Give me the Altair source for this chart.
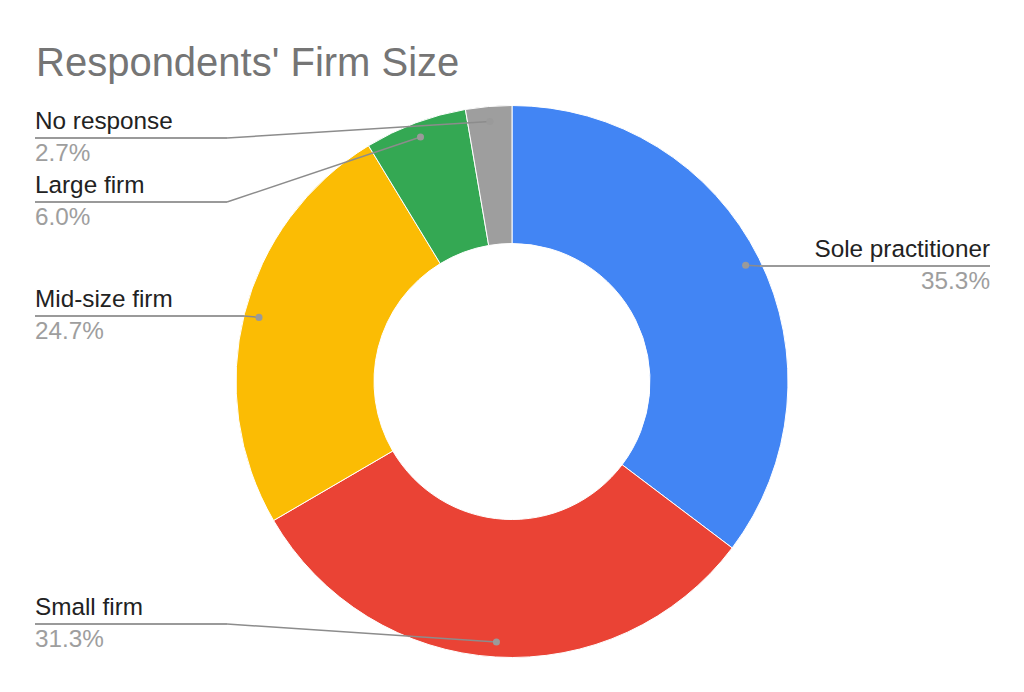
import altair as alt
import pandas as pd

# ---- data ----
categories = ["Sole practitioner", "Small firm", "Mid-size firm", "Large firm", "No response"]
shares = [35.3, 31.3, 24.7, 6.0, 2.7]
pct_labels = ["35.3%", "31.3%", "24.7%", "6.0%", "2.7%"]

# ---- styling / layout (plot-area pixels) ----
colors = ["#4285F4", "#EA4335", "#FBBC04", "#34A853", "#9E9E9E"]
label_side = ["right", "left", "left", "left", "left"]
label_line_y = [158, 516, 208, 94, 30]
label_elbow_x = [752, 219, 236, 219, 219]
label_end_x = [982, 27, 27, 27, 27]

CX, CY = 504, 273.5
R_OUT, R_IN, R_DOT = 276, 138, 261
W, H = 1008, 576
FONT = "Liberation Sans"

df = pd.DataFrame({
    "category": categories,
    "share": shares,
    "pct": pct_labels,
    "order": list(range(len(categories))),
    "side": label_side,
    "line_y": label_line_y,
    "elbow_x": label_elbow_x,
    "end_x": label_end_x,
})

base = alt.Chart(df)

color = alt.Color("category:N", scale=alt.Scale(domain=categories, range=colors), legend=None)

arcs = base.mark_arc(innerRadius=R_IN, outerRadius=R_OUT, stroke="white", strokeWidth=1).encode(
    theta=alt.Theta("share:Q", stack=True),
    order=alt.Order("order:Q"),
    color=color,
    x=alt.value(CX),
    y=alt.value(CY),
)

pos = base.transform_window(
    cum="sum(share)", sort=[alt.SortField("order")], frame=[None, 0]
).transform_joinaggregate(
    total="sum(share)"
).transform_calculate(
    ang=f"2*PI*(datum.cum - datum.share/2)/datum.total"
).transform_calculate(
    dot_x=f"{CX} + {R_DOT}*sin(datum.ang)",
    dot_y=f"{CY} - {R_DOT}*cos(datum.ang)",
)

X = lambda f: alt.X(f, type="quantitative", scale=None, axis=None)
Y = lambda f: alt.Y(f, type="quantitative", scale=None, axis=None)

diag = pos.mark_rule(color="#8c8c8c", strokeWidth=1.5).encode(
    x=X("dot_x"), y=Y("dot_y"), x2="elbow_x:Q", y2="line_y:Q"
)
horiz = pos.mark_rule(color="#9a9a9a", strokeWidth=2).encode(
    x=X("elbow_x"), x2="end_x:Q", y=Y("line_y")
)
dots = pos.mark_circle(size=50, color="#9a9a9a", opacity=1).encode(
    x=X("dot_x"), y=Y("dot_y")
)

def labels(side, align):
    b = base.transform_filter(alt.datum.side == side)
    name = b.mark_text(align=align, baseline="alphabetic", dy=-9, font=FONT,
                       fontSize=24.3, color="#222222").encode(
        x=X("end_x"), y=Y("line_y"), text="category:N")
    pct = b.mark_text(align=align, baseline="alphabetic", dy=23, font=FONT,
                      fontSize=24.3, color="#9e9e9e").encode(
        x=X("end_x"), y=Y("line_y"), text="pct:N")
    return name + pct

chart = alt.layer(
    arcs, diag, horiz, dots, labels("left", "left"), labels("right", "right")
).properties(
    width=W,
    height=H,
    autosize=alt.AutoSizeParams(type="none"),
    padding={"left": 0, "top": 100, "right": 0, "bottom": 0},
    title=alt.TitleParams(
        "Respondents' Firm Size", anchor="start", dx=28, fontSize=40,
        font=FONT, fontWeight="normal", color="#757575",
        baseline="alphabetic", offset=-12,
    ),
).configure_view(stroke=None)

chart.save("out.html", embed_options={"renderer": "svg", "actions": False})
